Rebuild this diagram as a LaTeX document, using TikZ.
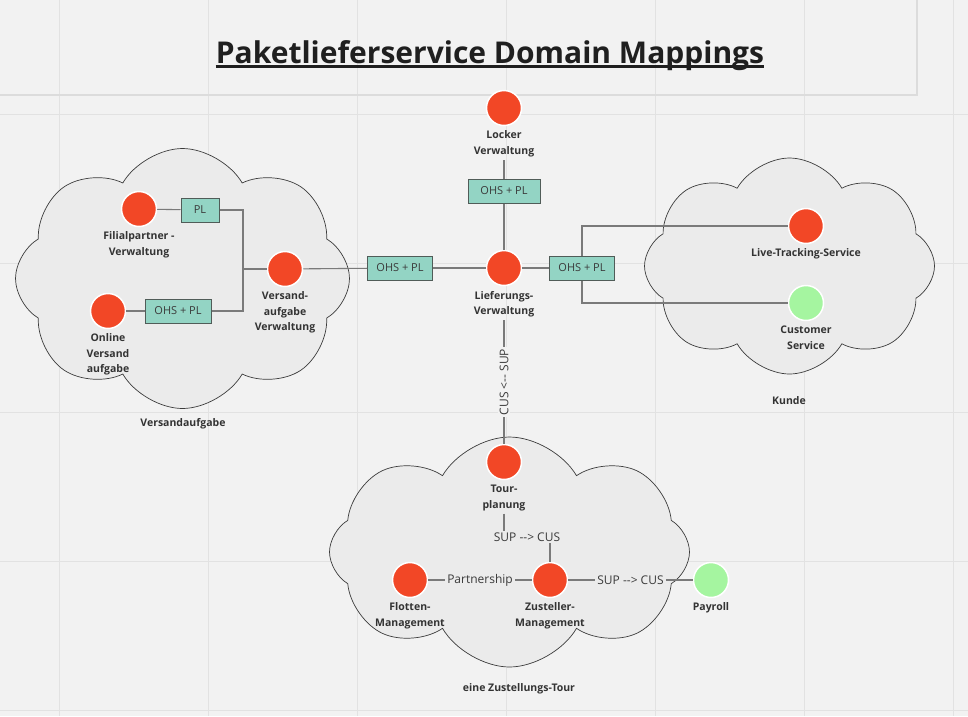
\documentclass[tikz,border=0pt]{standalone}
\usepackage{fontspec}
\setmainfont{Open Sans}
\newfontfamily\titlefont{Open Sans}[Ligatures=TeXOff]
\newfontfamily\plainfont{Open Sans}[Ligatures=TeXOff]
\usetikzlibrary{shapes.symbols}
\definecolor{bg}{HTML}{F2F2F2}
\definecolor{gridc}{HTML}{E2E2E2}
\definecolor{framec}{HTML}{DCDCDC}
\definecolor{cloudfill}{HTML}{EBEBEB}
\definecolor{cloudline}{HTML}{3C3C3C}
\definecolor{boxfill}{HTML}{93D4C4}
\definecolor{boxline}{HTML}{505C58}
\definecolor{domred}{HTML}{F24726}
\definecolor{domgreen}{HTML}{A5F5A0}
\definecolor{linegray}{HTML}{7A7A7A}
\definecolor{txt}{HTML}{333333}
\definecolor{txtgray}{HTML}{3A3A3A}
\begin{document}
\begin{tikzpicture}[x=1pt,y=-1pt,
  dom/.style={circle, minimum size=35pt, inner sep=0pt, draw=white, line width=1.5pt, fill=domred},
  domg/.style={dom, fill=domgreen},
  lbl/.style={anchor=north, inner sep=0pt, outer sep=3pt, align=center, text=txt,
     font=\fontsize{10.5}{15.5}\selectfont\bfseries},
  grp/.style={inner sep=0pt, text=txt, font=\fontsize{10.5}{15.5}\selectfont\bfseries},
  mapbox/.style={draw=boxline, fill=boxfill, line width=1pt, minimum height=24pt, inner sep=0pt,
     text=txtgray, font=\plainfont\fontsize{11}{13}\selectfont},
  conn/.style={draw=linegray, line width=1.1pt},
  elbl/.style={inner sep=2pt, text=txtgray, font=\plainfont\fontsize{12}{14}\selectfont},
  cloudbox/.style={cloud, cloud puffs=8, cloud puff arc=120, draw=cloudline, line width=0.7pt, fill=cloudfill, inner sep=0pt}
]
% background and grid
\fill[bg] (0,0) rectangle (968,716);
\useasboundingbox (0,0) rectangle (968,716);
\foreach \gx in {59,208,357,506,655,804,953} \draw[gridc, line width=1pt] (\gx,0) -- (\gx,716);
\foreach \gy in {114,263,412,561,710} \draw[gridc, line width=1pt] (0,\gy) -- (968,\gy);
\draw[framec, line width=1.2pt] (0,95) -- (917,95) -- (917,0);

% title
\node[inner sep=0pt, anchor=base, text=black!88, font=\titlefont\fontsize{30}{34}\selectfont\bfseries] (title) at (490,63) {Paketlieferservice Domain Mappings};
\draw[black!88, line width=2.5pt] ([yshift=-3.5pt]title.base west) -- ([yshift=-3.5pt]title.base east);

% clouds
\node[cloudbox, minimum width=334pt, minimum height=260pt] (cloudA) at (182.5,278.5) {};
\node[cloudbox, minimum width=290pt, minimum height=216pt] (cloudK) at (789.5,266) {};
\node[cloudbox, minimum width=360pt, minimum height=230pt] (cloudT) at (509.5,552) {};

\node[grp] (grpA) at (183,424) {Versandaufgabe};
\node[grp] (grpK) at (789,401) {Kunde};
\node[grp] (grpT) at (519,689) {eine Zustellungs-Tour};

% domain circles
\node[dom] (locker) at (504,108) {};
\node[dom] (liefer) at (504,268) {};
\node[dom] (fil) at (139,209) {};
\node[dom] (online) at (108,311) {};
\node[dom] (versand) at (285,269) {};
\node[dom] (live) at (806,226) {};
\node[domg] (cust) at (806,303) {};
\node[dom] (tour) at (504,462) {};
\node[dom] (flot) at (410,580) {};
\node[dom] (zust) at (550,580) {};
\node[domg] (pay) at (711,580) {};

% labels
\node[lbl] (lockerL) at (504,128) {Locker\\Verwaltung};
\node[lbl] (lieferL) at (504,288) {Lieferungs-\\Verwaltung};
\node[lbl] (filL) at (139,229) {Filialpartner -\\Verwaltung};
\node[lbl] (onlineL) at (108,331) {Online\\Versand\\aufgabe};
\node[lbl] (versandL) at (285,289) {Versand-\\aufgabe\\Verwaltung};
\node[lbl] (liveL) at (806,246) {Live-Tracking-Service};
\node[lbl] (custL) at (806,323) {Customer\\Service};
\node[lbl] (tourL) at (504,482) {Tour-\\planung};
\node[lbl] (flotL) at (410,600) {Flotten-\\Management};
\node[lbl] (zustL) at (550,600) {Zusteller-\\Management};
\node[lbl] (payL) at (711,600) {Payroll};

% mapping boxes
\node[mapbox, minimum width=72pt] (topbox) at (504,191) {OHS + PL};
\node[mapbox, minimum width=65pt] (lbox) at (400,268) {OHS + PL};
\node[mapbox, minimum width=65pt] (rbox) at (582,268) {OHS + PL};
\node[mapbox, minimum width=38pt] (plbox) at (200,210) {PL};
\node[mapbox, minimum width=66pt] (obox) at (178,311) {OHS + PL};

\coordinate (j) at (243,269);
\coordinate (tb) at (504,537);
\coordinate (tc) at (550,537);

% connectors
\draw[conn] (lockerL) -- (topbox);
\draw[conn] (topbox) -- (liefer);
\draw[conn] (liefer) -- (lbox);
\draw[conn] (lbox) -- (versand);
\draw[conn] (liefer) -- (rbox);
\draw[conn] (rbox.north) |- (live);
\draw[conn] (rbox.south) |- (cust);
\draw[conn] (fil) -- (plbox);
\draw[conn] (online) -- (obox);
\draw[conn] (plbox.east) -| (j);
\draw[conn] (obox.east) -| (j);
\draw[conn] (j) -- (versand);
\draw[conn] (lieferL) -- (tour) node[midway, elbl, fill=bg, rotate=90] (cuslbl) {CUS <-- SUP};
\draw[conn] (tourL) -- (tb) -- (tc) -- (zust);
\node[elbl, fill=cloudfill] (suplbl) at (527,537) {SUP --> CUS};
\draw[conn] (flot) -- (zust) node[midway, elbl, fill=cloudfill] (partlbl) {Partnership};
\draw[conn] (zust) -- (pay) node[midway, elbl, fill=cloudfill] (paylbl) {SUP --> CUS};
\end{tikzpicture}
\end{document}
